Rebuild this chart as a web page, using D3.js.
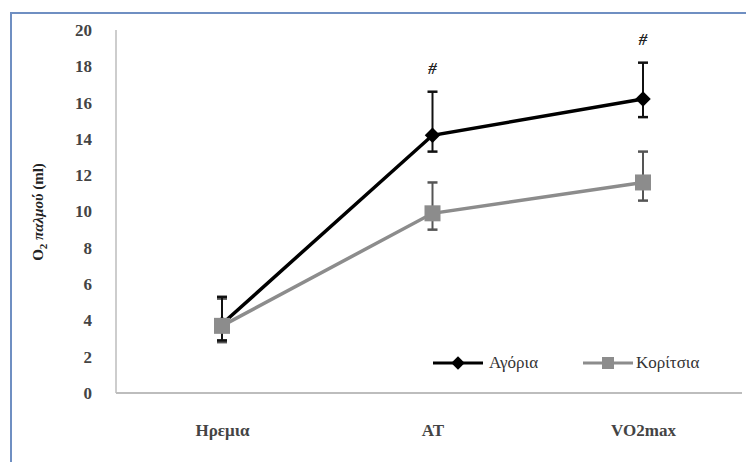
<!DOCTYPE html>
<html><head><meta charset="utf-8">
<script src="https://cdn.jsdelivr.net/npm/d3@7"></script>
<style>body{margin:0;background:#fff}svg{display:block}</style>
</head><body>
<script>
const categories = ["Ηρεμια", "AT", "VO2max"];
const boys = [3.8, 14.2, 16.2];
const boysUpper = [5.3, 16.6, 18.2];
const boysLower = [2.9, 13.3, 15.2];
const girls = [3.7, 9.9, 11.6];
const girlsUpper = [5.2, 11.6, 13.3];
const girlsLower = [2.8, 9.0, 10.6];
const yTicks = [0, 2, 4, 6, 8, 10, 12, 14, 16, 18, 20];
const seriesNames = ["Αγόρια", "Κορίτσια"];
const sigMarks = ["", "#", "#"];

const W = 746, H = 462;
const FONT = "Liberation Serif";
const svg = d3.select("body").append("svg").attr("width", W).attr("height", H)
  .attr("font-family", FONT);

// outer frame
svg.append("rect").attr("x", 11).attr("y", 13).attr("width", W + 10).attr("height", H + 10)
  .attr("fill", "#fff").attr("stroke", "#6f8fc2").attr("stroke-width", 2);

const x = d3.scalePoint().domain(categories).range([222, 643]);
const y = d3.scaleLinear().domain([0, 20]).range([393, 30]);

// axes lines
svg.append("line").attr("x1", 116).attr("x2", 116).attr("y1", y(20)).attr("y2", y(0))
  .attr("stroke", "#bdbdbd").attr("stroke-width", 1.5);
svg.append("line").attr("x1", 116).attr("x2", 742).attr("y1", y(0)).attr("y2", y(0))
  .attr("stroke", "#bdbdbd").attr("stroke-width", 2);

// y ticks
const yAxis = d3.axisLeft(y).tickValues(yTicks).tickSize(0).tickPadding(0);
const gy = svg.append("g").attr("transform", "translate(92,0)").call(yAxis);
gy.select(".domain").remove();
gy.attr("font-family", FONT).attr("font-size", 17);
gy.selectAll("text").attr("font-family", FONT).attr("font-size", 17).attr("font-weight", "bold").attr("fill", "#444");

// x labels
const xAxis = d3.axisBottom(x).tickSize(0).tickPadding(0);
const gx = svg.append("g").attr("transform", "translate(0,424)").call(xAxis);
gx.select(".domain").remove();
gx.attr("font-family", FONT).attr("font-size", 17);
gx.selectAll("text").attr("font-family", FONT).attr("font-size", 17).attr("font-weight", "bold").attr("fill", "#444");

// y title
svg.append("text").attr("transform", "translate(43,212) rotate(-90)").attr("text-anchor", "middle")
  .attr("font-family", FONT).attr("font-size", 15).attr("font-weight", "bold").attr("fill", "#222")
  .html('O<tspan font-size="11" dy="4">2</tspan><tspan dy="-4"> </tspan><tspan font-style="italic">παλμού</tspan> (ml)');

const lineGen = d3.line().x((d, i) => x(categories[i])).y(d => y(d));

function errBars(vals, up, lo, color) {
  const g = svg.append("g");
  vals.forEach((v, i) => {
    const cx = x(categories[i]);
    g.append("line").attr("x1", cx).attr("x2", cx).attr("y1", y(up[i])).attr("y2", y(lo[i]))
      .attr("stroke", color).attr("stroke-width", 2);
    [up[i], lo[i]].forEach(t => g.append("line").attr("x1", cx - 5).attr("x2", cx + 5)
      .attr("y1", y(t)).attr("y2", y(t)).attr("stroke", color).attr("stroke-width", 2.5));
  });
}

// girls
errBars(girls, girlsUpper, girlsLower, "#555");
svg.append("path").datum(girls).attr("d", lineGen).attr("fill", "none").attr("stroke", "#8c8c8c").attr("stroke-width", 3.5);
// boys
errBars(boys, boysUpper, boysLower, "#111");
svg.append("path").datum(boys).attr("d", lineGen).attr("fill", "none").attr("stroke", "#000").attr("stroke-width", 3.5);

svg.selectAll(".bm").data(boys).join("path").attr("class", "bm")
  .attr("d", d3.symbol().type(d3.symbolSquare).size(120))
  .attr("transform", (d, i) => `translate(${x(categories[i])},${y(d)}) rotate(45)`)
  .attr("fill", "#000");
svg.selectAll(".gm").data(girls).join("rect").attr("class", "gm")
  .attr("x", (d, i) => x(categories[i]) - 8).attr("y", d => y(d) - 8)
  .attr("width", 16).attr("height", 16).attr("fill", "#8c8c8c");

// significance marks
svg.selectAll(".sig").data(sigMarks).join("text").attr("class", "sig")
  .attr("x", (d, i) => x(categories[i])).attr("y", (d, i) => y(boysUpper[i]) - 18)
  .attr("text-anchor", "middle").attr("font-family", FONT).attr("font-size", 17)
  .attr("font-style", "italic").attr("font-weight", "bold").attr("fill", "#222").text(d => d);

// legend
const lg = svg.append("g").attr("transform", "translate(0,363)");
lg.append("line").attr("x1", 433).attr("x2", 483).attr("stroke", "#000").attr("stroke-width", 3);
lg.append("path").attr("transform", "translate(458,0) rotate(45)").attr("d", d3.symbol().type(d3.symbolSquare).size(90)).attr("fill", "#000");
lg.append("text").attr("x", 489).attr("y", 5).attr("font-family", FONT).attr("font-size", 17).attr("fill", "#333").text(seriesNames[0]);
lg.append("line").attr("x1", 583).attr("x2", 633).attr("stroke", "#8c8c8c").attr("stroke-width", 3);
lg.append("rect").attr("x", 602).attr("y", -6).attr("width", 12).attr("height", 12).attr("fill", "#8c8c8c");
lg.append("text").attr("x", 636).attr("y", 5).attr("font-family", FONT).attr("font-size", 17).attr("fill", "#333").text(seriesNames[1]);
</script>
</body></html>
